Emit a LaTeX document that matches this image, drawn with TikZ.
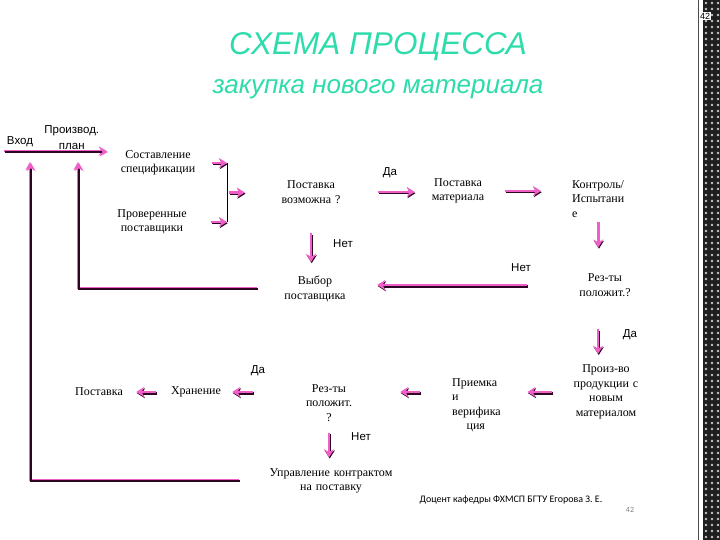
\documentclass[tikz,border=0pt]{standalone}
\usepackage{fontspec}
\setmainfont{Liberation Serif}
\setsansfont{Liberation Sans}
\newfontfamily\footfont{Carlito}
\usetikzlibrary{arrows.meta}
\usetikzlibrary{calc}
\usetikzlibrary{positioning}
\definecolor{titleTeal}{RGB}{45, 220, 170}
\definecolor{arrowPink}{RGB}{240, 95, 200}
\definecolor{arrowDark}{RGB}{45, 5, 35}

\tikzset{
  box/.style={font=\fontsize{12}{14.5}\selectfont, align=center, inner sep=0pt},
  lbl/.style={font=\sffamily\fontsize{11.5}{16}\selectfont, inner sep=0pt},
  arr/.style={draw=arrowPink, line width=2.6pt,
              -{Stealth[length=8pt, width=10pt]},
              preaction={draw=arrowDark, line width=2.6pt,
                         transform canvas={shift={(0.7pt,-1.2pt)}}}},
  feed/.style={draw=arrowDark, line width=1.8pt,
               -{Stealth[length=8pt, width=9pt, color=arrowPink]},
               preaction={draw=arrowPink, line width=1.8pt,
                          transform canvas={shift={(-1pt,1pt)}}}}
}

\begin{document}
\begin{tikzpicture}[x=1pt, y=-1pt]
      \useasboundingbox (0,0) rectangle (720,540);

      % dark strip on the right
      \fill [black!88] (703,0) rectangle (720,540);
      \foreach \y in {3,9,...,540}
        \foreach \x in {706,712,718}
          \fill [gray!45] (\x,\y) circle (1.4pt);
      \draw [black!70, line width=1pt] (698.5,0) -- (698.5,540);
      \node [font=\sffamily\fontsize{9}{10}\selectfont, fill=white,
             inner sep=1pt] (corner) at (705,16) {42};

      \node [titleTeal, font=\sffamily\itshape\fontsize{31.5}{36}\selectfont]
            (title) at (378,47) {СХЕМА ПРОЦЕССА};
      \node [titleTeal, font=\sffamily\itshape\fontsize{26}{32}\selectfont]
            (subtitle) at (378,89) {закупка нового материала};

      \node [lbl] (vhod) at (20,142) {Вход};
      \node [lbl, align=center, right=11pt of vhod, yshift=4pt] (plan)
            {Производ.\\план};

      \node [box, text width=84pt] (spec) at (158,163)
            {Составление\\спецификации};
      \node [box, text width=84pt] (prov) at (152,222)
            {Проверенные\\поставщики};
      \node [box, text width=70pt] (poss) at (311,192) {Поставка\\возможна ?};
      \node [box, text width=70pt] (mat) at (458,191) {Поставка\\материала};
      \node [box, text width=70pt, align=left, anchor=west] (kontr)
            at (572,199) {Контроль/\\Испытани\\е};
      \node [box, text width=70pt] (vyb) at (315,289) {Выбор\\поставщика};
      \node [box, text width=70pt] (res1) at (605,285) {Рез-ты\\положит.?};
      \node [box, text width=80pt] (prod) at (606,392)
            {Произ-во\\продукции с\\новым\\материалом};
      \node [box, text width=60pt, align=left, anchor=west] (priem)
            at (452,405) {Приемка\\и\\верифика\\\hspace*{1.2em}ция};
      \node [box, text width=60pt] (res2) at (329,403) {Рез-ты\\положит.\\?};
      \node [box, text width=56pt] (hran) at (196,392) {Хранение};
      \node [box, text width=52pt] (post) at (99,392) {Поставка};
      \node [box, text width=130pt] (upr) at (331,481)
            {Управление контрактом\\на поставку};

      \node [lbl] (da1) at (390,173) {Да};
      \node [lbl] (net1) at (343,244) {Нет};
      \node [lbl] (net2) at (521,268) {Нет};
      \node [lbl] (da2) at (630,335) {Да};
      \node [lbl] (da3) at (258,371) {Да};
      \node [lbl] (net3) at (361,437) {Нет};

      \coordinate (start) at (5,152);
      \coordinate (j1) at (31,152);
      \coordinate (j2) at (79,152);
      \coordinate (br1) at (227,163);
      \coordinate (br2) at (227,222);
      \coordinate (brm) at ($(br1)!0.5!(br2)$);

      % main line and the two loops back
      \draw [feed, shorten >=8pt] (start) -- (start -| spec.west);
      \draw [feed, shorten <=26pt, shorten >=11pt] (upr.west) -| (j1);
      \draw [feed, shorten <=22pt, shorten >=11pt] (vyb.west) -| (j2);

      \draw [arr, shorten <=12pt] (spec.east) -- (br1);
      \draw [arr, shorten <=17pt] (prov.east) -- (br2);
      \draw [black, line width=0.8pt] (br1) -- (br2);
      \draw [arr, shorten <=2pt, shorten >=31pt] (brm) -- (brm -| poss.west);
      \draw [arr, shorten <=32pt, shorten >=8pt]
            (poss.east) -- (poss.east -| mat.west);
      \draw [arr, shorten <=12pt, shorten >=31pt]
            (mat.east) -- (mat.east -| kontr.west);
      \draw [arr, shorten <=4pt, shorten >=26pt]
            ([xshift=-9pt]kontr.south) -- ([xshift=-9pt]kontr.south |- res1.north);
      \draw [arr, shorten <=30pt, shorten >=14pt]
            (poss.south) -- (poss.south |- vyb.north);
      \draw [arr, shorten <=43pt, shorten >=27pt]
            (res1.west) -- (res1.west -| vyb.east);
      \draw [arr, shorten <=33pt, shorten >=11pt]
            ([xshift=-7pt]res1.south) -- ([xshift=-7pt]res1.south |- prod.north);
      \draw [arr, shorten <=14pt, shorten >=15pt]
            (prod.west) -- (prod.west -| priem.east);
      \draw [arr, shorten <=32pt, shorten >=41pt]
            (priem.west |- prod.west) -- (res2.east |- prod.west);
      \draw [arr, shorten <=46pt, shorten >=8pt]
            (res2.west |- hran.east) -- (hran.east);
      \draw [arr, shorten <=12pt, shorten >=11pt] (hran.west) -- (post.east);
      \draw [arr, shorten <=11pt, shorten >=11pt]
            (res2.south) -- (res2.south |- upr.north);

      \node [font=\footfont\fontsize{10}{11}\selectfont] (footer) at (511,500)
            {Доцент кафедры ФХМСП БГТУ Егорова З. Е.};
      \node [font=\footfont\fontsize{8}{9}\selectfont, gray] (page) at (630,510)
            {42};
\end{tikzpicture}
\end{document}
